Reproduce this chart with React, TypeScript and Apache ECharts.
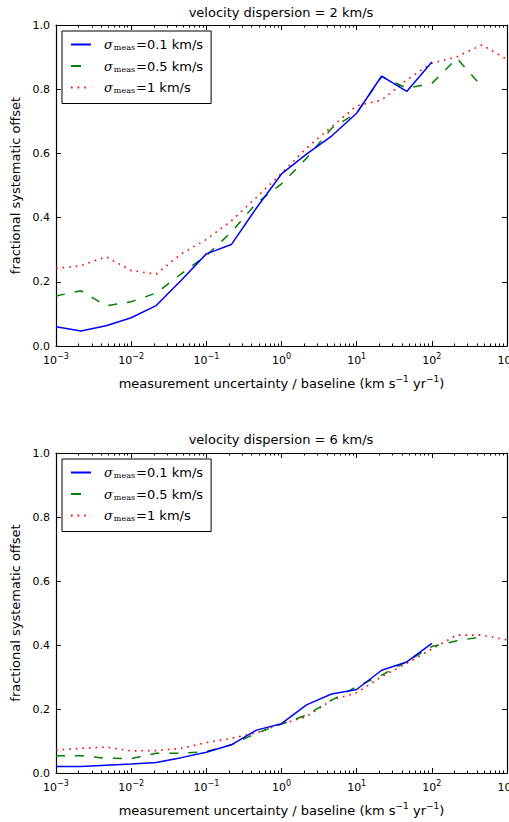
import React, { useEffect, useRef } from 'react';
import * as echarts from 'echarts';

// x positions (measurement uncertainty / baseline, km s^-1 yr^-1)
const xValues = [0.001, 0.00215, 0.00464, 0.01, 0.0215, 0.0464, 0.1, 0.215, 0.464, 1, 2.15, 4.64, 10, 21.5, 46.4, 100, 215, 464, 1000];

// velocity dispersion = 2 km/s
const blue2 = [0.060, 0.047, 0.063, 0.088, 0.126, 0.205, 0.287, 0.316, 0.43, 0.536, 0.598, 0.654, 0.725, 0.841, 0.793, 0.885];
const green2 = [0.156, 0.172, 0.125, 0.138, 0.165, 0.225, 0.282, 0.355, 0.445, 0.505, 0.585, 0.678, 0.726, 0.839, 0.803, 0.818, 0.896, 0.808];
const red2 = [0.242, 0.25, 0.278, 0.235, 0.224, 0.287, 0.332, 0.39, 0.463, 0.538, 0.616, 0.683, 0.748, 0.766, 0.829, 0.881, 0.901, 0.938, 0.893];

// velocity dispersion = 6 km/s
const blue6 = [0.020, 0.020, 0.024, 0.028, 0.033, 0.048, 0.065, 0.088, 0.134, 0.154, 0.213, 0.247, 0.261, 0.321, 0.347, 0.405];
const green6 = [0.054, 0.054, 0.046, 0.045, 0.062, 0.062, 0.067, 0.088, 0.124, 0.153, 0.181, 0.228, 0.27, 0.306, 0.348, 0.395, 0.413, 0.426];
const red6 = [0.072, 0.077, 0.081, 0.069, 0.070, 0.077, 0.095, 0.108, 0.126, 0.153, 0.176, 0.228, 0.251, 0.301, 0.343, 0.387, 0.431, 0.431, 0.416];

const panelTitles = ['velocity dispersion = 2 km/s', 'velocity dispersion = 6 km/s'];
const seriesNames = ['σmeas=0.1 km/s', 'σmeas=0.5 km/s', 'σmeas=1 km/s'];
const seriesColors = ['#0000ff', '#008000', '#ff0000'];
const xAxisTitle = 'measurement uncertainty / baseline (km s';
const yAxisTitle = 'fractional systematic offset';

const FONT = 'DejaVu Sans';

const pairs = (ys: number[]) => ys.map((y, i) => [xValues[i], y]);

export default function App() {
  const ref = useRef<HTMLDivElement>(null);
  useEffect(() => {
    document.body.style.margin = '0';
    const chart = echarts.init(ref.current!, null, { renderer: 'svg' });

    const grids = [
      { left: 56, top: 25, width: 451, height: 321, outerBoundsMode: 'none', containLabel: false },
      { left: 56, top: 453, width: 451, height: 320, outerBoundsMode: 'none', containLabel: false },
    ];

    const xAxes: any[] = [];
    const yAxes: any[] = [];
    grids.forEach((_, g) => {
      const baseX = {
        type: 'log',
        logBase: 10,
        gridIndex: g,
        min: 0.001,
        max: 1000,
        splitNumber: 6,
        axisLine: { onZero: false, lineStyle: { color: '#000', width: 1.2 } },
        axisTick: { inside: true, length: 5, lineStyle: { color: '#000', width: 1 } },
        minorTick: { show: true, splitNumber: 9, length: 2.5, lineStyle: { color: '#000', width: 1 } },
        splitLine: { show: false },
        minorSplitLine: { show: false },
      };
      xAxes.push({
        ...baseX,
        position: 'bottom',
        axisLabel: {
          margin: 6,
          color: '#000',
          fontFamily: FONT,
          formatter: (v: number) => `{b|10}{e|${Math.round(Math.log10(v)) < 0 ? '−' : ''}${Math.abs(Math.round(Math.log10(v)))}}`,
          rich: {
            b: { fontSize: 11, fontFamily: FONT, color: '#000' },
            e: { fontSize: 8, fontFamily: FONT, color: '#000', padding: [0, 0, 8, 0] },
          },
        },
        name: `{t|${xAxisTitle}}{e|−1}{t| yr}{e|−1}{t|)}`,
        nameLocation: 'middle',
        nameGap: 28,
        nameTextStyle: {
          fontFamily: FONT,
          fontSize: 13,
          color: '#000',
          rich: {
            t: { fontFamily: FONT, fontSize: 13, color: '#000' },
            e: { fontFamily: FONT, fontSize: 9, color: '#000', padding: [0, 0, 9, 0] },
          },
        },
      });
      xAxes.push({ ...baseX, position: 'top', axisLabel: { show: false } });
      const baseY = {
        type: 'value',
        gridIndex: g,
        min: 0,
        max: 1,
        interval: 0.2,
        axisLine: { show: true, onZero: false, lineStyle: { color: '#000', width: 1.2 } },
        axisTick: { show: true, inside: true, length: 5, lineStyle: { color: '#000', width: 1 } },
        splitLine: { show: false },
      };
      yAxes.push({
        ...baseY,
        position: 'left',
        axisLabel: { color: '#000', fontFamily: FONT, fontSize: 11, margin: 6, formatter: (v: number) => v.toFixed(1) },
        name: yAxisTitle,
        nameLocation: 'middle',
        nameGap: 31,
        nameTextStyle: { fontFamily: FONT, fontSize: 13, color: '#000' },
      });
      yAxes.push({ ...baseY, position: 'right', axisLabel: { show: false } });
    });

    const lineStyles: any[] = [
      { type: 'solid', width: 1.5 },
      { type: [9, 10], width: 1.5 },
      { type: [1.6, 5], width: 1.6 },
    ];
    const panelData = [
      [blue2, green2, red2],
      [blue6, green6, red6],
    ];
    const series: any[] = [];
    panelData.forEach((set, g) => {
      set.forEach((ys, s) => {
        series.push({
          type: 'line',
          name: seriesNames[s],
          xAxisIndex: g * 2,
          yAxisIndex: g * 2,
          data: pairs(ys),
          symbol: 'none',
          showSymbol: false,
          color: seriesColors[s],
          lineStyle: { color: seriesColors[s], ...lineStyles[s] },
          z: 3 - s,
        });
      });
    });

    const legendTops = [31, 459];
    const legends = legendTops.map((top) => ({
      orient: 'vertical',
      left: 62,
      top,
      backgroundColor: '#fff',
      borderColor: '#000',
      borderWidth: 1,
      borderRadius: 0,
      padding: [7, 8, 9, 8],
      itemWidth: 20,
      itemHeight: 14,
      itemGap: 8,
      selectedMode: false,
      itemStyle: { opacity: 0 },
      data: [
        { name: seriesNames[0] },
        { name: seriesNames[1], lineStyle: { type: [10, 10] } },
        { name: seriesNames[2] },
      ],
      formatter: (name: string) => `{s|σ}{m|meas}{t|${name.slice(name.indexOf('='))}}`,
      textStyle: {
        fontFamily: FONT,
        fontSize: 13,
        color: '#000',
        rich: {
          s: { fontFamily: 'DejaVu Serif', fontStyle: 'italic', fontSize: 13, color: '#000', padding: [0, 0, 0, 8] },
          m: { fontFamily: 'DejaVu Serif', fontSize: 8, color: '#000', padding: [6, 1, 0, 1] },
          t: { fontFamily: FONT, fontSize: 13, color: '#000' },
        },
      },
    }));

    chart.setOption({
      animation: false,
      backgroundColor: '#fff',
      grid: grids,
      xAxis: xAxes,
      yAxis: yAxes,
      legend: legends,
      series,
      graphic: panelTitles.map((t, i) => ({
        type: 'text',
        x: 281,
        y: i === 0 ? 12 : 439,
        style: { text: t, font: `13px "${FONT}"`, fill: '#000', textAlign: 'center', textVerticalAlign: 'middle' },
      })),
    });
    return () => chart.dispose();
  }, []);
  return <div ref={ref} style={{ width: 509, height: 822 }} />;
}
